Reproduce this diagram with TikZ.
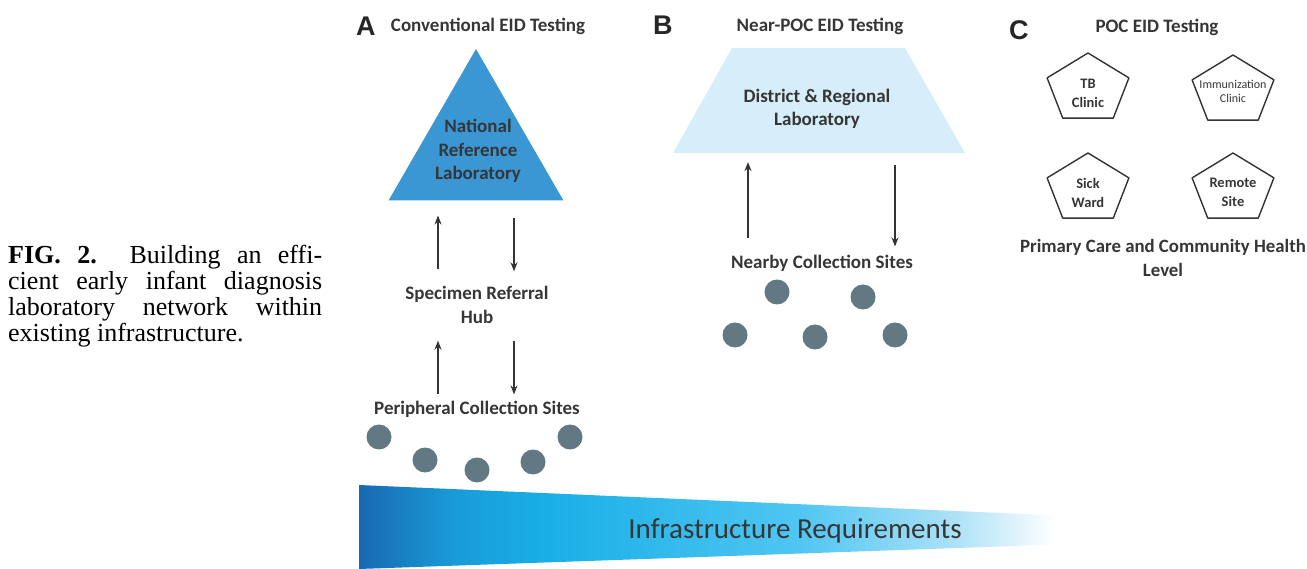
\documentclass[tikz,border=0pt]{standalone}
\usepackage{fontspec}
\setmainfont{Liberation Serif}
\newfontfamily\calib{Carlito}
\newfontfamily\arialb{Liberation Sans}
\usetikzlibrary{arrows.meta,shapes.geometric,calc}

\definecolor{txtgray}{HTML}{363636}
\definecolor{nrlblue}{HTML}{3B97D3}
\definecolor{drllight}{HTML}{D6EEFA}
\definecolor{sitegray}{HTML}{627983}
\definecolor{arrowgray}{HTML}{333333}
\definecolor{infra0}{RGB}{25,105,180}
\definecolor{infra1}{RGB}{25,155,215}
\definecolor{infra2}{RGB}{25,175,230}
\definecolor{infra3}{RGB}{80,198,242}
\definecolor{infra4}{RGB}{170,225,247}
\pgfdeclarehorizontalshading{infra}{100bp}{color(0bp)=(infra0); color(25bp)=(infra0); color(30bp)=(infra1); color(35bp)=(infra2); color(48.5bp)=(infra3); color(56.5bp)=(infra4); color(62bp)=(white); color(100bp)=(white)}

\begin{document}
\begin{tikzpicture}[x=1pt,y=-1pt,
  lbl/.style={font=\calib\bfseries\fontsize{19}{23.5}\selectfont, text=txtgray, inner sep=0pt, align=center},
  ttl/.style={lbl, anchor=base},
  letter/.style={font=\arialb\bfseries\fontsize{27}{27}\selectfont, text=black!85, inner sep=0pt, anchor=base west},
  flow/.style={draw=arrowgray, line width=1.7pt, -{Stealth[length=9pt,width=7pt]}},
  site/.style={circle, fill=sitegray, minimum size=25pt, inner sep=0pt},
  nrltri/.style={regular polygon, regular polygon sides=3, fill=nrlblue, minimum size=202pt, inner sep=0pt, outer sep=0pt},
  pent/.style={draw=arrowgray, line width=1.4pt, line join=round},
  pentlbl/.style={font=\calib\bfseries\fontsize{14.5}{19}\selectfont, text=txtgray, inner sep=0pt, align=center},
  captxt/.style={font=\fontsize{26}{26}\selectfont, inner sep=0pt, align=left}]
\useasboundingbox (0,0) rectangle (1307,569);

% caption
\node[captxt, anchor=north west] (cap) at (8,245) {\makebox[314pt][s]{\textbf{FIG. 2.}\ \ Building an effi-}\\
  \makebox[314pt][s]{cient early infant diagnosis}\\
  \makebox[314pt][s]{laboratory network within}\\
  existing infrastructure.};

% A: conventional
\node[letter] (pA) at (356,36) {A};
\node[ttl] (ttlA) at (488,32) {Conventional EID Testing};
\node[nrltri] (nrl) at (476,150) {};
\node[lbl] (nrltxt) at (478,151) {National\\Reference\\Laboratory};
\node[lbl] (hub) at (477,305) {Specimen Referral\\Hub};
\node[ttl] (pcs) at (477,414) {Peripheral Collection Sites};
\draw[flow] ([xshift=-39,yshift=17]hub.north) -- ([xshift=-38,yshift=-15]nrl.south);
\draw[flow] ([xshift=38,yshift=-17]nrl.south) -- ([xshift=37,yshift=15]hub.north);
\draw[flow] ([xshift=-39,yshift=6]pcs.north) -- ([xshift=-39,yshift=-17]hub.south);
\draw[flow] ([xshift=37,yshift=-17]hub.south) -- ([xshift=37,yshift=6]pcs.north);
\foreach \i/\x/\y in {1/379/437,2/425/460,3/477/470,4/533/462,5/570/437}
  \node[site] (sa\i) at (\x,\y) {};

% B: near-POC
\node[letter] (pB) at (653,35) {B};
\node[ttl] (ttlB) at (820,32) {Near-POC EID Testing};
\fill[drllight] (732,48) -- (905,48) -- (965,153) -- (673,153) -- cycle;
\node[lbl] (drl) at (817,109) {District \& Regional\\Laboratory};
\node[ttl] (ncs) at (822,269) {Nearby Collection Sites};
\draw[flow] ([xshift=-74,yshift=17]ncs.north) -- ([xshift=-69,yshift=-33]drl.south);
\draw[flow] ([xshift=78,yshift=-36]drl.south) -- ([xshift=73,yshift=9]ncs.north);
\foreach \i/\x/\y in {1/777/292,2/863/297,3/735/335,4/815/337,5/895/335}
  \node[site] (sb\i) at (\x,\y) {};

% C: POC
\node[letter] (pC) at (1009,40) {C};
\node[ttl] (ttlC) at (1157,33) {POC EID Testing};
\foreach \n/\x/\y in {tb/1088/89,imm/1233/91,sick/1088/189,rem/1233/189}{
  \coordinate (\n) at (\x,\y);
  \draw[pent] ($(\n)+(-90:43 and 36)$) -- ($(\n)+(-18:43 and 36)$) -- ($(\n)+(54:43 and 36)$)
    -- ($(\n)+(126:43 and 36)$) -- ($(\n)+(198:43 and 36)$) -- cycle;
}
\node[pentlbl] (tbtxt) at (1088,93.5) {TB\\Clinic};
\node[pentlbl, font=\calib\fontsize{12}{14}\selectfont] (immtxt) at (1233,91.5) {Immunization\\Clinic};
\node[pentlbl] (sicktxt) at (1088,192.5) {Sick\\Ward};
\node[pentlbl] (remtxt) at (1233,192.5) {Remote\\Site};
\node[lbl, font=\calib\bfseries\fontsize{18.8}{24}\selectfont] (pcl) at (1163,257.5) {Primary Care and Community Health\\Level};

% infrastructure wedge
\shade[shading=infra] (359,485) -- (1300,526) -- (1300,536) -- (359,569) -- cycle;
\node[font=\calib\fontsize{29}{29}\selectfont, text=txtgray, inner sep=0pt, anchor=base] (infra) at (795,538) {Infrastructure Requirements};
\end{tikzpicture}
\end{document}
